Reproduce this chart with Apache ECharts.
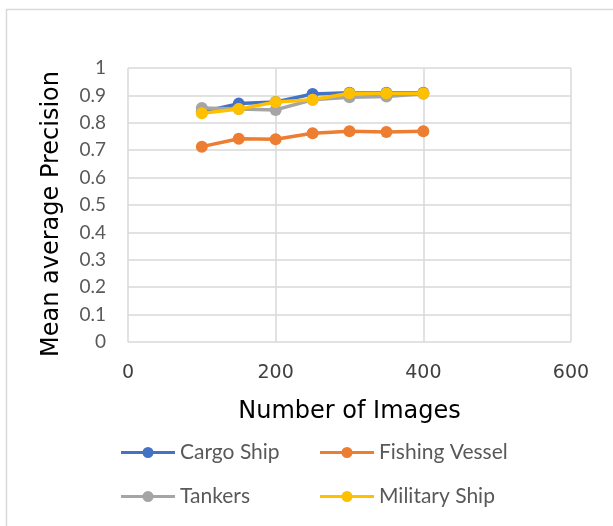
<!DOCTYPE html>
<html>
<head>
<meta charset="utf-8">
<script src="https://cdn.jsdelivr.net/npm/echarts@6/dist/echarts.min.js"></script>
<style>
  html, body { margin: 0; padding: 0; background: #ffffff; }
  #chart { width: 613px; height: 526px; }
</style>
</head>
<body>
<div id="chart"></div>
<script>
// Number of training images on the x axis
const imageCounts = [100, 150, 200, 250, 300, 350, 400];

// Mean average precision per ship class
const cargoShip     = [0.840, 0.870, 0.876, 0.905, 0.910, 0.910, 0.910];
const fishingVessel = [0.713, 0.742, 0.740, 0.762, 0.769, 0.766, 0.769];
const tankers       = [0.854, 0.850, 0.847, 0.884, 0.893, 0.896, 0.906];
const militaryShip  = [0.835, 0.850, 0.876, 0.884, 0.908, 0.908, 0.908];

const seriesNames  = ['Cargo Ship', 'Fishing Vessel', 'Tankers', 'Military Ship'];
const seriesValues = [cargoShip, fishingVessel, tankers, militaryShip];
const seriesColors = ['#4472C4', '#ED7D31', '#A5A5A5', '#FFC000'];

const gridColor = '#d9d9d9';
const labelFont = 'Lato, "Open Sans", sans-serif';
const axisFont = '"DejaVu Sans", sans-serif';

// Legend key: a thick line segment with a dot in the middle
const legendIcon = 'path://M0,4.5L54,4.5L54,7.5L0,7.5Z M21.5,6A5.5,5.5 0 1,1 32.5,6A5.5,5.5 0 1,1 21.5,6Z';

const chart = echarts.init(document.getElementById('chart'), null, { renderer: 'canvas' });

const legendSpots = [
  { left: 121, top: 442 },
  { left: 320, top: 442 },
  { left: 121, top: 486 },
  { left: 320, top: 486 }
];

const option = {
  backgroundColor: '#ffffff',
  animation: false,
  graphic: [{
    type: 'rect',
    shape: { x: 6.5, y: 9.5, width: 700, height: 600 },
    style: { fill: 'none', stroke: gridColor, lineWidth: 1.5 },
    silent: true
  }],
  grid: { left: 128, top: 68, right: 42, bottom: 184, containLabel: false },
  legend: seriesNames.map((name, i) => ({
    data: [{ name: name, icon: legendIcon, itemStyle: { color: seriesColors[i] } }],
    left: legendSpots[i].left,
    top: legendSpots[i].top,
    padding: 0,
    itemWidth: 54,
    itemHeight: 12,
    textStyle: { color: '#595959', fontSize: 21, fontFamily: labelFont },
    selectedMode: false
  })),
  xAxis: {
    type: 'value',
    min: 0,
    max: 600,
    interval: 200,
    name: 'Number of Images',
    nameLocation: 'middle',
    nameGap: 58,
    nameTextStyle: { color: '#000000', fontSize: 24, fontFamily: axisFont },
    axisLine: { show: false },
    axisTick: { show: false },
    axisLabel: { color: '#404040', fontSize: 19, fontFamily: axisFont, margin: 22 },
    splitLine: { show: true, lineStyle: { color: gridColor, width: 1.5 } }
  },
  yAxis: {
    type: 'value',
    min: 0,
    max: 1,
    interval: 0.1,
    name: 'Mean average Precision',
    nameLocation: 'middle',
    nameGap: 64,
    nameTextStyle: { color: '#000000', fontSize: 24, fontFamily: axisFont, padding: [0, 18, 0, 0] },
    axisLine: { show: false },
    axisTick: { show: false },
    axisLabel: {
      color: '#595959', fontSize: 19, fontFamily: labelFont, margin: 22,
      formatter: v => String(Math.round(v * 10) / 10)
    },
    splitLine: { show: true, lineStyle: { color: gridColor, width: 1.5 } }
  },
  series: seriesNames.map((name, i) => ({
    name: name,
    type: 'line',
    data: imageCounts.map((x, j) => [x, seriesValues[i][j]]),
    symbol: 'circle',
    symbolSize: 12,
    showAllSymbol: true,
    lineStyle: { color: seriesColors[i], width: 3.5 },
    itemStyle: { color: seriesColors[i] },
    z: 2 + i
  }))
};

chart.setOption(option);
</script>
</body>
</html>
